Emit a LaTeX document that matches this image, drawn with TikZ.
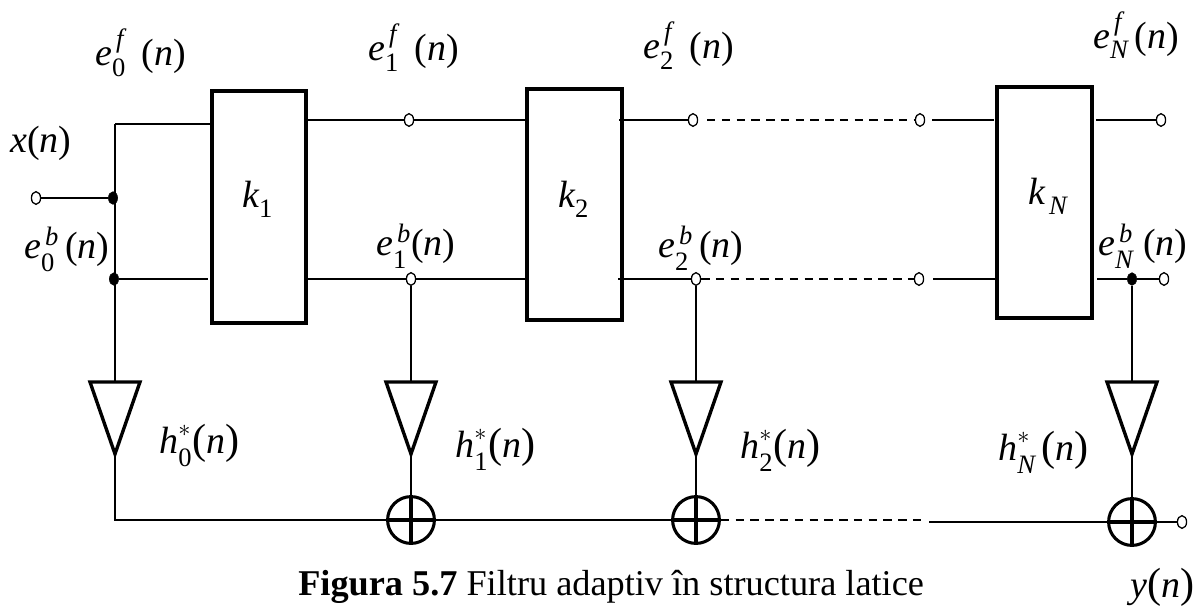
\documentclass[tikz,border=0pt]{standalone}
\usepackage{fontspec}
\usepackage{amsmath}
\usetikzlibrary{shapes.geometric}
\setmainfont{Liberation Serif}
\newcommand{\Vi}[1]{\text{\itshape #1}}
\newcommand{\Vd}[1]{\text{\raisebox{-0.2em}{#1}}}
\newcommand{\Vn}{\text{(}\Vi{n}\text{)}}
\newcommand{\Vm}{\text{\fontsize{30}{30}\selectfont(}\Vi{n}\text{\fontsize{30}{30}\selectfont)}}
\tikzset{
  Box/.style={draw,line width=2.4pt},
  Port/.style={ellipse,draw,fill=white,inner sep=0pt,minimum width=6.5pt,minimum height=9pt,line width=0.9pt},
  Dot/.style={ellipse,draw,fill=black,inner sep=0pt,minimum width=6.5pt,minimum height=9pt},
  Sum/.style={circle,draw,line width=2.2pt,inner sep=0pt,minimum size=1.17cm},
  Lbl/.style={inner sep=0pt,anchor=base west,font=\fontsize{27}{30}\selectfont},
  Wire/.style={line width=1pt},
  Dash/.style={line width=1pt,dash pattern=on 6pt off 4.5pt}
}
\begin{document}
\begin{tikzpicture}[x=0.025cm,y=-0.025cm]
\useasboundingbox (0,0) rectangle (1198,608);
% lattice stages
\draw[Box] (212,91) rectangle (306,323);
\draw[Box] (527,89) rectangle (622,320);
\draw[Box] (997,87) rectangle (1092,318);
\node[Lbl] (K1) at (242,207) {$\Vi{k}_{\Vd{1}}$};
\node[Lbl] (K2) at (558,207) {$\Vi{k}_{\Vd{2}}$};
\node[Lbl] (KN) at (1028,204) {$\Vi{k}_{\,\Vd{\itshape N}}$};
% ports
\node[Port] (X) at (36,198) {};
\node[Dot] (J1) at (113,198) {};
\node[Dot] (J2) at (114,279) {};
\node[Port] (F1) at (409,120) {};
\node[Port] (F2) at (693,120) {};
\node[Port] (F3) at (920,120) {};
\node[Port] (FN) at (1161,120) {};
\node[Port] (B1) at (411,279) {};
\node[Port] (B2) at (696,279) {};
\node[Port] (B3) at (919,279) {};
\node[Dot] (J3) at (1132,279) {};
\node[Port] (BN) at (1164,279) {};
\node[Port] (Y) at (1182,522) {};
\coordinate (T0) at (115,124);
\coordinate (S0) at (115,520);
% gain triangles
\foreach \n/\x in {G0/115,G1/411,G2/696,G3/1132} {
  \draw[Box] (\x-25,382) -- (\x+25,382) -- (\x,454) -- cycle;
  \coordinate (\n) at (\x,382);
  \coordinate (\n t) at (\x,454);
}
% summers
\foreach \n/\x/\y in {S1/411/520,S2/696/520,S3/1132/522} {
  \node[Sum] (\n) at (\x,\y) {};
  \draw[Box] (\n.north) -- (\n.south);
  \draw[Box] (\n.west) -- (\n.east);
}
% wires
\draw[Wire] (X) -- (J1);
\draw[Wire] (T0) -- (210,124);
\draw[Wire] (T0) -- (G0);
\draw[Wire] (J2) -- (208,279);
\draw[Wire] (307,120) -- (F1) -- (527,120);
\draw[Wire] (619,120) -- (F2);
\draw[Dash] (F2) ++(14,0) -- (F3);
\draw[Wire] (932,120) -- (994,120);
\draw[Wire] (1096,120) -- (FN);
\draw[Wire] (307,279) -- (B1) -- (527,279);
\draw[Wire] (618,279) -- (B2);
\draw[Dash] (B2) -- (B3);
\draw[Wire] (933,279) -- (997,279);
\draw[Wire] (1097,279) -- (J3) -- (BN);
\draw[Wire] (B1) -- (G1);
\draw[Wire] (B2) -- (G2);
\draw[Wire] (J3) -- (G3);
\draw[Wire] (G0t) -- (S0) -- (S1);
\draw[Wire] (G1t) -- (S1);
\draw[Wire] (G2t) -- (S2);
\draw[Wire] (G3t) -- (S3);
\draw[Wire] (S1) -- (S2);
\draw[Dash] (S2) -- (927,520);
\draw[Wire] (929,522) -- (S3);
\draw[Wire] (S3) -- (Y);
% labels
\node[Lbl] (LX) at (10,152) {$\Vi{x}\Vn$};
\node[Lbl] (LF0) at (95,65) {$\Vi{e}_{\Vd{0}}^{\,\Vi{f}}\;\,\Vn$};
\node[Lbl] (LF1) at (368,60) {$\Vi{e}_{\Vd{1}}^{\,\Vi{f}}\;\,\Vn$};
\node[Lbl] (LF2) at (643,58) {$\Vi{e}_{\Vd{2}}^{\,\Vi{f}}\;\,\Vn$};
\node[Lbl] (LFN) at (1093,48) {$\Vi{e}_{\Vd{\itshape N}}^{\,\Vi{f}}\,\Vn$};
\node[Lbl] (LB0) at (24,258) {$\Vi{e}_{\Vd{0}}^{\,\Vi{b}}\,\Vn$};
\node[Lbl] (LB1) at (376,255) {$\Vi{e}_{\Vd{1}}^{\,\Vi{b}}\Vn$};
\node[Lbl] (LB2) at (658,257) {$\Vi{e}_{\Vd{2}}^{\,\Vi{b}}\,\Vn$};
\node[Lbl] (LBN) at (1098,255) {$\Vi{e}_{\Vd{\itshape N}}^{\,\Vi{b}}\;\Vn$};
\node[Lbl] (H0) at (159,453) {$\Vi{h}_{\Vd{0}}^{*}\Vm$};
\node[Lbl] (H1) at (455,457) {$\Vi{h}_{\Vd{1}}^{*}\Vm$};
\node[Lbl] (H2) at (740,458) {$\Vi{h}_{\Vd{2}}^{*}\Vm$};
\node[Lbl] (HN) at (998,460) {$\Vi{h}_{\Vd{\itshape N}}^{*}\,\Vm$};
\node[Lbl] (LY) at (1130,597) {$\Vi{y}\Vm$};
\node[Lbl,font=\fontsize{25.8}{30}\selectfont] (CAP) at (298,595) {\textbf{Figura 5.7} Filtru adaptiv în structura latice};
\end{tikzpicture}
\end{document}
